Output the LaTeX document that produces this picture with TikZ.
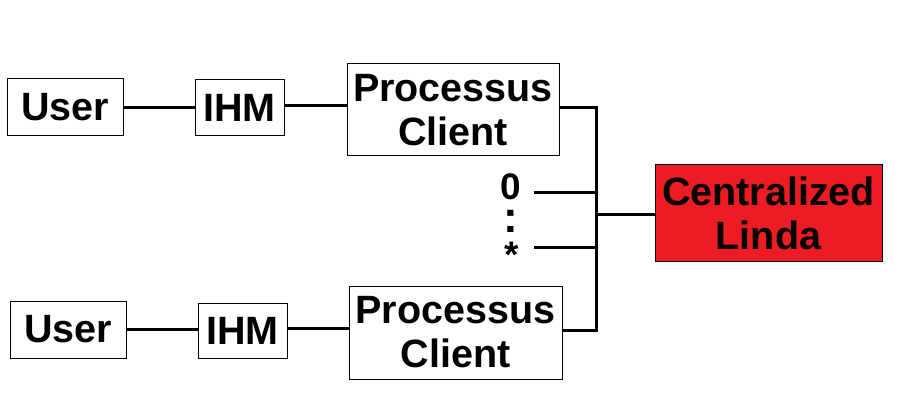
\documentclass[tikz,border=0pt]{standalone}
\usepackage{fontspec}
\setmainfont{Liberation Sans}
\definecolor{lindared}{RGB}{237,28,36}
\begin{document}
\begin{tikzpicture}[x=1pt,y=-1pt]\tikzstyle{every node} = [align=center]
    \tikzstyle{box} = [draw, line width=1pt, inner sep=0pt, font=\fontsize{39.5}{44}\selectfont\bfseries]
    \tikzstyle{mark label} = [inner sep=0pt, text depth=0pt, font=\fontsize{37}{37}\selectfont\bfseries]
    \tikzstyle{wire} = [line width=3pt]
    \useasboundingbox (0,0) rectangle (905,417);

    \node[box, minimum width=116pt, minimum height=57pt] (userA) at (65,107.5) {User};
    \node[box, minimum width=89pt, minimum height=56pt] (ihmA) at (239.5,108) {IHM};
    \node[box, minimum width=212pt, minimum height=92pt] (clientA) at (453,110) {Processus\\Client};

    \node[box, minimum width=116pt, minimum height=57pt] (userB) at (68,329.5) {User};
    \node[box, minimum width=89pt, minimum height=55pt] (ihmB) at (242.5,330.5) {IHM};
    \node[box, minimum width=213pt, minimum height=93pt] (clientB) at (455.5,332.5) {Processus\\Client};

    \node[box, fill=lindared, minimum width=227pt, minimum height=96pt] (linda) at (768.5,213) {Centralized\\Linda};

    \node[mark label, anchor=base] (first) at (511,199) {0};
    \node[mark label, anchor=base, text height=23pt, font=\fontsize{44}{44}\selectfont\bfseries] (dots) at (511,232) {:};
    \node[mark label, anchor=base, text height=12pt] (last) at (512,267) {*};

    \coordinate (busTop) at (596.5,108);
    \coordinate (busBot) at (596.5,330);
    \coordinate (busMid) at (596.5,214);

    \draw[wire] (userA.east) -- (ihmA.west |- userA.east);
    \draw[wire] (ihmA.east |- 0,106) -- (clientA.west |- 0,106);
    \draw[wire] (userB.east) -- (ihmB.west |- userB.east);
    \draw[wire] (ihmB.east |- 0,328) -- (clientB.west |- 0,328);

    \draw[wire] (clientA.east |- busTop) -- (busTop) -- (busBot) -- (clientB.east |- busBot);
    \draw[wire] (534,192) -- (busTop |- 0,192);
    \draw[wire] (534,247) -- (busTop |- 0,247);
    \draw[wire] (busMid) -- (linda.west |- busMid);
  \end{tikzpicture}
\end{document}
